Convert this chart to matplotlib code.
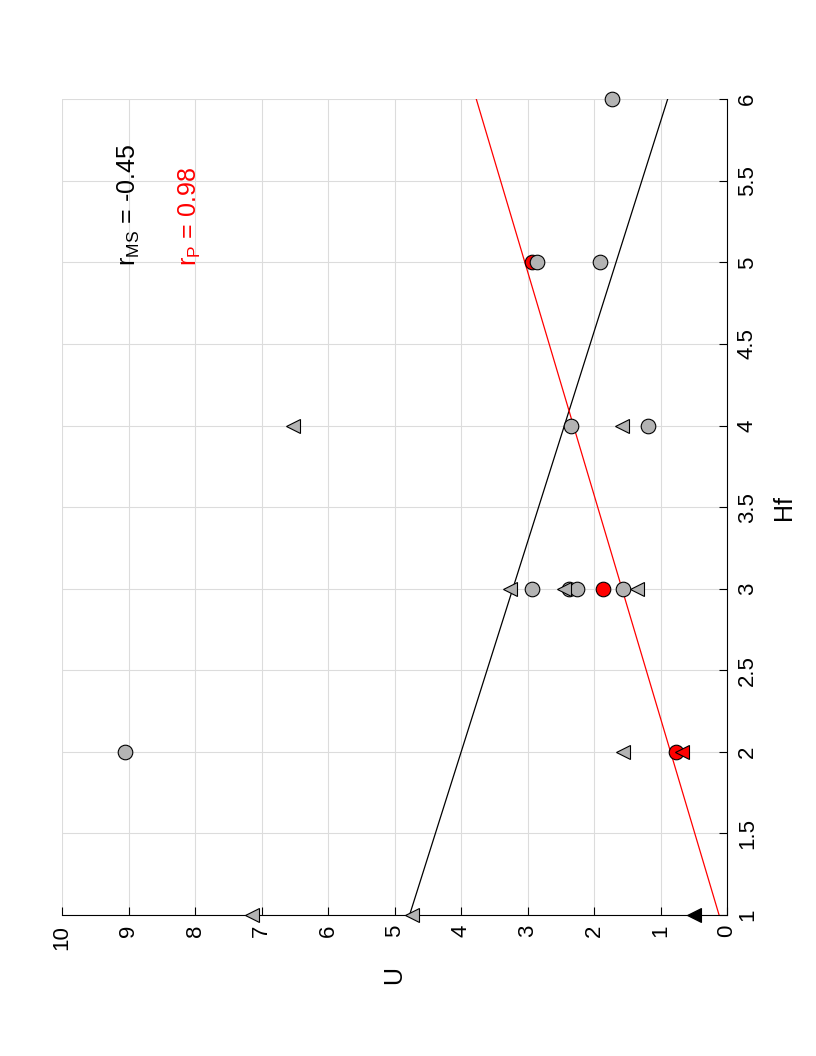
import matplotlib
matplotlib.use("Agg")
import matplotlib.pyplot as plt
import numpy as np

plt.rcParams['font.family'] = ['Liberation Sans', 'DejaVu Sans']

# gray circles (Hf, U)
circ_hf = [2, 3, 3, 3, 3, 4, 4, 5, 5, 6]
circ_u = [9.05, 2.93, 2.38, 2.26, 1.57, 2.35, 1.19, 2.86, 1.91, 1.73]
# gray triangles
tri_hf = [1, 1, 2, 3, 3, 3, 4, 4]
tri_u = [7.14, 4.74, 1.56, 3.26, 2.45, 1.36, 6.53, 1.58]
# red (P) circles and triangle
red_circ_hf = [2, 3, 5]
red_circ_u = [0.77, 1.86, 2.93]
red_tri_hf = [2]
red_tri_u = [0.67]
# black triangle
blk_tri_hf = [1]
blk_tri_u = [0.5]

# fitted lines: U = a + b * Hf
fit_ms = (5.55, -0.776)
fit_p = (-0.61, 0.73)
r_ms = -0.45
r_p = 0.98

fig = plt.figure(figsize=(8.16, 10.56), dpi=100)
ax = fig.add_axes([0.076, 0.1335, 0.815, 0.7725])

gray = '#b3b3b3'
ms = 10.5
hf_line = np.array([1, 6])
ax.plot(fit_ms[0] + fit_ms[1] * hf_line, hf_line, color='black', lw=0.9, zorder=2)
ax.plot(fit_p[0] + fit_p[1] * hf_line, hf_line, color='red', lw=0.9, zorder=2)

ax.plot(red_circ_u, red_circ_hf, 'o', ms=ms, mfc='red', mec='black', mew=0.8, ls='none', zorder=3, clip_on=False)
ax.plot(circ_u, circ_hf, 'o', ms=ms, mfc=gray, mec='black', mew=0.8, ls='none', zorder=4, clip_on=False)
ax.plot(tri_u, tri_hf, '<', ms=ms, mfc=gray, mec='black', mew=0.8, ls='none', zorder=4, clip_on=False)
ax.plot(red_tri_u, red_tri_hf, '<', ms=ms, mfc='red', mec='black', mew=0.8, ls='none', zorder=5, clip_on=False)
ax.plot(blk_tri_u, blk_tri_hf, '<', ms=ms, mfc='black', mec='black', mew=0.8, ls='none', zorder=5, clip_on=False)

ax.set_xlim(10, 0)
ax.set_ylim(1, 6)
ax.set_xticks(range(0, 11))
ax.set_xticklabels([str(v) for v in range(0, 11)], rotation=90, fontsize=16)
hf_ticks = np.arange(1, 6.01, 0.5)
ax.set_yticks(hf_ticks)
ax.set_yticklabels(['%g' % v for v in hf_ticks], rotation=90, fontsize=16, va='center')
ax.yaxis.tick_right()
ax.yaxis.set_label_position('right')
ax.tick_params(direction='in', length=6, width=0.8)
ax.tick_params(axis='x', pad=7)
ax.tick_params(axis='y', pad=7)
ax.grid(True, color='#dcdcdc', lw=0.8)
ax.set_axisbelow(True)
for s in ['top', 'left']:
    ax.spines[s].set_visible(False)
for s in ['bottom', 'right']:
    ax.spines[s].set_linewidth(0.8)

ax.set_xlabel('U', fontsize=18, rotation=90, labelpad=12)
ax.set_ylabel('Hf', fontsize=18, rotation=90, labelpad=10)

ax.text(9.0, 4.98, r'r$_{\mathregular{MS}}$ = %.2f' % r_ms, rotation=90, fontsize=18,
        color='black', ha='center', va='bottom')
ax.text(8.07, 4.98, r'r$_{\mathregular{P}}$ = %.2f' % r_p, rotation=90, fontsize=18,
        color='red', ha='center', va='bottom')

fig.savefig('out.png', dpi=100)
